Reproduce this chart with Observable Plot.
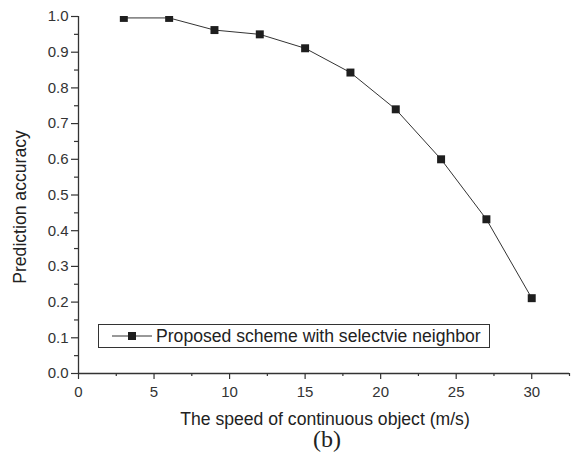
<!DOCTYPE html>
<html>
<head>
<meta charset="utf-8">
<script src="https://cdn.jsdelivr.net/npm/d3@7"></script>
<script src="https://cdn.jsdelivr.net/npm/@observablehq/plot@0.6"></script>
<style>
  html, body { margin: 0; padding: 0; background: #fff; }
  #wrap { position: relative; width: 577px; height: 463px; font-family: "Liberation Sans", Arial, sans-serif; }
  #legend {
    position: absolute; left: 98px; top: 324px; width: 390px; height: 22px;
    border: 1px solid #333; background: #fff; display: flex; align-items: center;
    font-size: 17.6px; color: #222; box-sizing: content-box; white-space: nowrap;
  }
  #legend svg { margin-left: 13px; margin-right: 4px; flex: none; }
</style>
</head>
<body>
<div id="wrap"></div>
<script>
const speeds = [3, 6, 9, 12, 15, 18, 21, 24, 27, 30];
const accuracy = [0.996, 0.996, 0.962, 0.950, 0.911, 0.843, 0.740, 0.600, 0.432, 0.211];
const seriesName = "Proposed scheme with selectvie neighbor";
const xMajorTicks = [0, 5, 10, 15, 20, 25, 30];
const xMinorTicks = [2.5, 7.5, 12.5, 17.5, 22.5, 27.5, 32.5];
const yMajorTicks = [0, 0.1, 0.2, 0.3, 0.4, 0.5, 0.6, 0.7, 0.8, 0.9, 1.0];
const yMinorTicks = [0.05, 0.15, 0.25, 0.35, 0.45, 0.55, 0.65, 0.75, 0.85, 0.95];
const xLabel = "The speed of continuous object (m/s)";
const yLabel = "Prediction accuracy";
const caption = "(b)";

const data = speeds.map((s, i) => ({speed: s, acc: accuracy[i]}));
const ink = "#333";

const chart = Plot.plot({
  width: 577,
  height: 463,
  marginLeft: 78,
  marginRight: 8,
  marginTop: 16,
  marginBottom: 90,
  style: {fontFamily: "'Liberation Sans', Arial, sans-serif", color: ink, background: "#fff"},
  x: {domain: [0, 32.5]},
  y: {domain: [0, 1]},
  marks: [
    Plot.axisX(xMajorTicks, {tickSize: 6, tickPadding: 7, fontSize: 15, stroke: ink, strokeWidth: 1.2, label: null, tickFormat: d => d3.format("d")(d)}),
    Plot.axisX(xMinorTicks, {tickSize: 3, text: null, stroke: ink, strokeWidth: 1.2, label: null}),
    Plot.axisY(yMajorTicks, {tickSize: 7, tickPadding: 3, fontSize: 15, stroke: ink, strokeWidth: 1.2, label: null, tickFormat: d3.format(".1f")}),
    Plot.axisY(yMinorTicks, {tickSize: 4, text: null, stroke: ink, strokeWidth: 1.2, label: null}),
    Plot.ruleX([0], {stroke: ink, strokeWidth: 1.3}),
    Plot.ruleY([0], {stroke: ink, strokeWidth: 1.3}),
    Plot.line(data, {x: "speed", y: "acc", stroke: ink, strokeWidth: 1}),
    Plot.dot(data, {x: "speed", y: "acc", symbol: "square", r: 4.5, fill: "#1e1e1e", stroke: "none", clip: true}),
    Plot.text([xLabel], {frameAnchor: "bottom", dy: 51, dx: 1, lineAnchor: "bottom", textAnchor: "middle", fontSize: 17.6, fill: "#222"}),
    Plot.text([yLabel], {frameAnchor: "left", dx: -58, dy: 12, rotate: -90, textAnchor: "middle", lineAnchor: "middle", fontSize: 17.6, fill: "#222"}),
    Plot.text([caption], {frameAnchor: "bottom", dy: 66, dx: 3, lineAnchor: "middle", textAnchor: "middle", fontSize: 24, fontFamily: "'Liberation Serif', 'DejaVu Serif', serif", fill: "#222"})
  ]
});

const wrap = document.getElementById("wrap");
wrap.appendChild(chart);

const legend = document.createElement("div");
legend.id = "legend";
legend.innerHTML = `<svg width="40" height="12"><line x1="0" y1="6" x2="40" y2="6" stroke="${ink}" stroke-width="1"/><rect x="16" y="2" width="8" height="8" fill="#1e1e1e"/></svg><span>${seriesName}</span>`;
wrap.appendChild(legend);
</script>
</body>
</html>
